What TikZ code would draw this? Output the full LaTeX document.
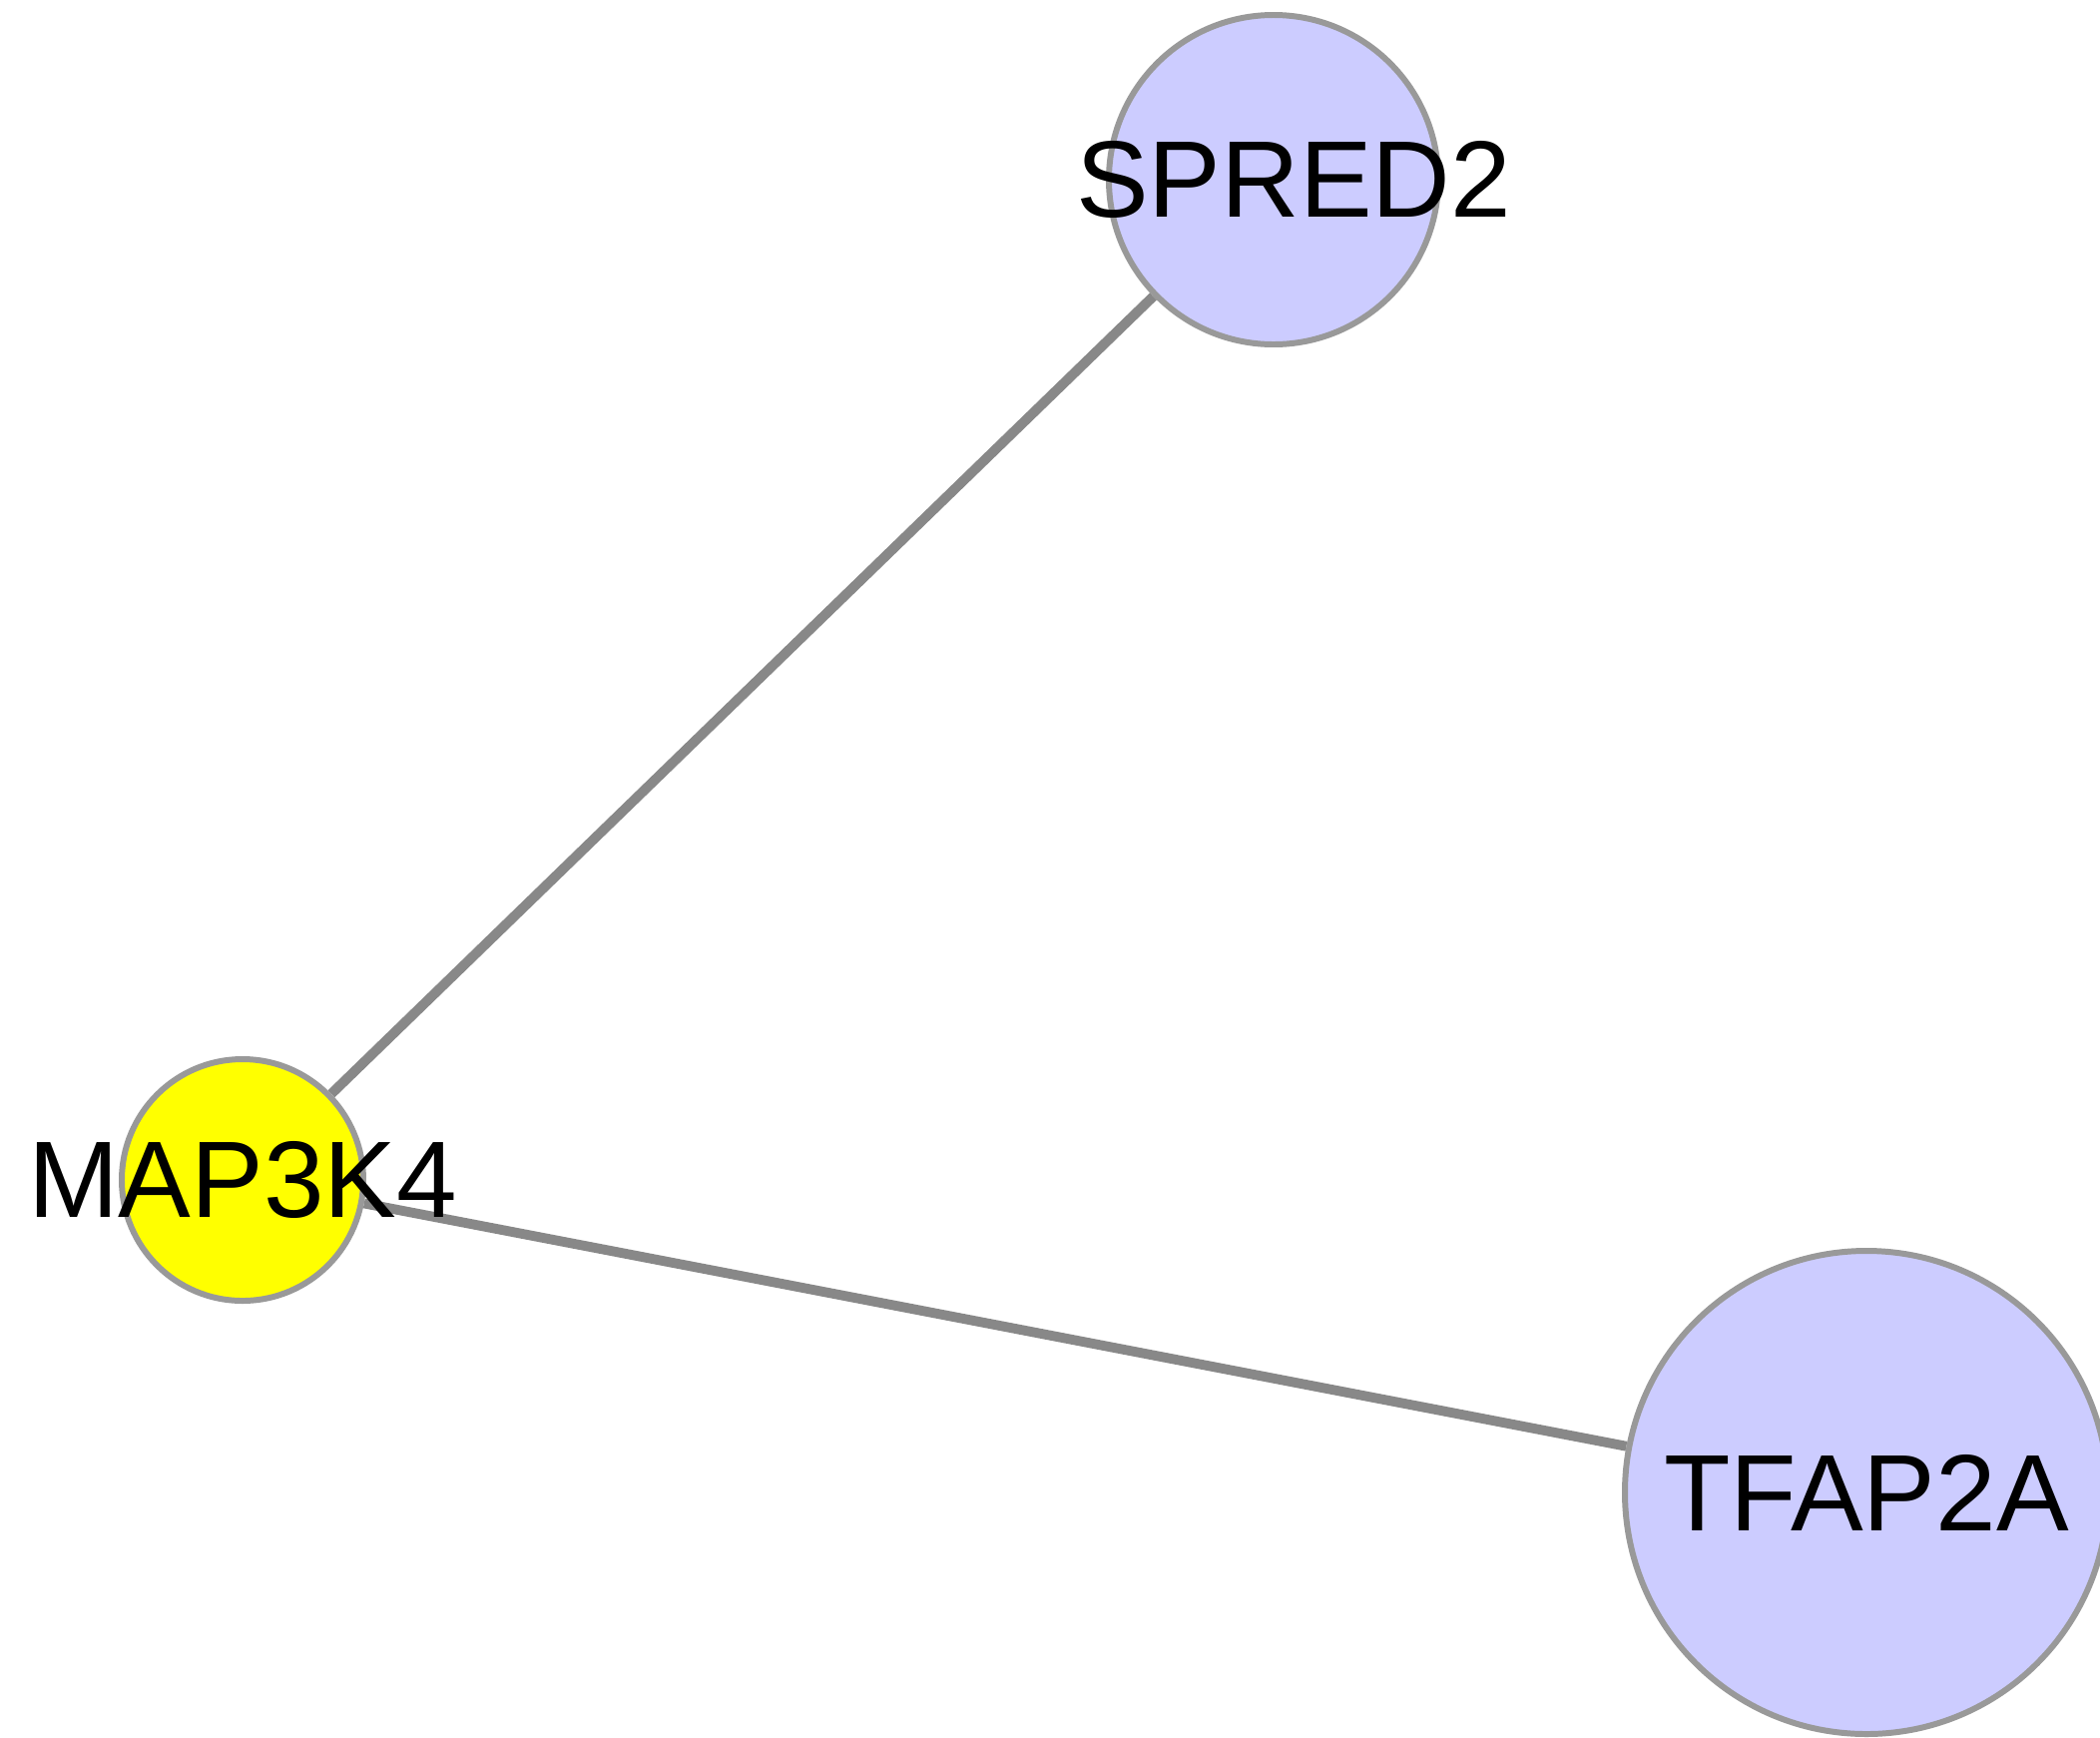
\documentclass[tikz,border=0pt]{standalone}
\usepackage{fontspec}
\setmainfont{Liberation Sans}
\usetikzlibrary{backgrounds}
\definecolor{gene}{HTML}{CCCCFF}
\definecolor{seed}{HTML}{FFFF00}
\definecolor{rim}{HTML}{999999}
\definecolor{link}{HTML}{888888}
\tikzset{every gene/.style={circle,draw=rim,line width=1.7pt,inner sep=0pt},
         gene/.style={every gene,fill=gene},
         seed/.style={every gene,fill=seed},
         genelabel/.style={font=\fontsize{31}{31}\selectfont,text=black},
         link/.style={draw=link,line width=2.8pt},
        }

\begin{document}
\begin{tikzpicture}
        \useasboundingbox (0,0) rectangle (21.04,-17.40);
        \node[gene,minimum size=3.30cm,label={[genelabel,xshift=0.2cm]center:SPRED2}](spred)at(12.76,-1.80){};
        \node[seed,minimum size=2.42cm,label={[genelabel]center:MAP3K4}](mapk)at(2.43,-11.82){};
        \node[gene,minimum size=4.84cm,label={[genelabel]center:TFAP2A}](tfap)at(18.70,-14.95){};

        \begin{pgfonlayer}{background}
        \draw[link](mapk)--(spred);
        \draw[link](mapk)--(tfap);
        \end{pgfonlayer}
    \end{tikzpicture}
\end{document}
